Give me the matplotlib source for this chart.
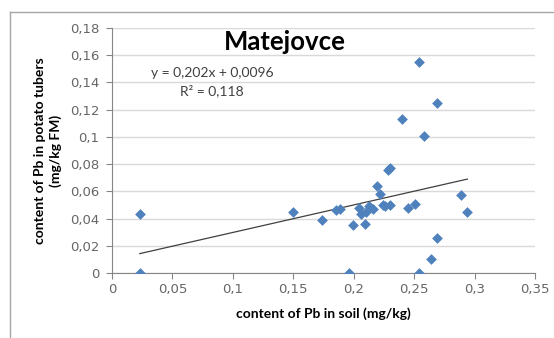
import matplotlib.pyplot as plt
from matplotlib.lines import Line2D
from matplotlib.ticker import FuncFormatter, MultipleLocator

# Pb in soil (mg/kg) vs Pb in potato tubers (mg/kg FM), Matejovce
soil_pb = [0.023, 0.023, 0.150, 0.174, 0.185, 0.189, 0.196,
           0.199, 0.204, 0.206, 0.209, 0.210, 0.213, 0.216, 0.219,
           0.222, 0.224, 0.226, 0.228, 0.230, 0.230, 0.240, 0.245,
           0.251, 0.254, 0.254, 0.258, 0.264, 0.269, 0.269, 0.289, 0.294]
tuber_pb = [0.043, 0.000, 0.045, 0.039, 0.046, 0.047, 0.000,
            0.035, 0.048, 0.043, 0.036, 0.045, 0.049, 0.047, 0.064,
            0.058, 0.050, 0.049, 0.076, 0.077, 0.050, 0.113, 0.048,
            0.051, 0.155, 0.000, 0.101, 0.010, 0.026, 0.125, 0.057, 0.045]

# linear trendline as given on the chart
slope = 0.202
intercept = 0.0096
eq_text = "y = 0,202x + 0,0096"
r2_text = "R² = 0,118"

W, H = 554, 338
fig = plt.figure(figsize=(W / 100, H / 100), dpi=100)
fig.patch.set_facecolor('white')

ax = fig.add_axes([112 / W, 1 - 273 / H, (535 - 112) / W, (273 - 28) / H])

axis_gray = '#868686'
ax.scatter(soil_pb, tuber_pb, marker='D', s=30, color='#4F81BD', zorder=3, linewidths=0)

x0, x1 = min(soil_pb), max(soil_pb)
ax.plot([x0, x1], [slope * x0 + intercept, slope * x1 + intercept],
        color='#404040', lw=0.9, zorder=2)

ax.set_xlim(0, 0.35)
ax.set_ylim(0, 0.18)
ax.xaxis.set_major_locator(MultipleLocator(0.05))
ax.yaxis.set_major_locator(MultipleLocator(0.02))

fmt = FuncFormatter(lambda v, p: ('%g' % round(v, 4)).replace('.', ','))
ax.xaxis.set_major_formatter(fmt)
ax.yaxis.set_major_formatter(fmt)

ax.grid(axis='y', color='#D9D9D9', lw=1)
ax.set_axisbelow(True)
for side in ['top', 'right']:
    ax.spines[side].set_visible(False)
for side in ['left', 'bottom']:
    ax.spines[side].set_color(axis_gray)
    ax.spines[side].set_linewidth(0.8)
ax.tick_params(axis='both', colors=axis_gray, length=4, width=0.8, labelsize=9.5,
               labelcolor='#666666')
ax.tick_params(axis='x', pad=3)
ax.tick_params(axis='y', pad=5)

ax.set_xlabel('content of Pb in soil (mg/kg)', fontsize=10, fontweight='bold',
              family='Lato', labelpad=8)
ax.set_ylabel('content of Pb in potato tubers\n(mg/kg FM)', fontsize=10,
              fontweight='bold', family='Lato', labelpad=6, linespacing=1.25)

fig.text(285 / W, 1 - 42 / H, 'Matejovce', fontsize=18.5, fontweight='bold',
         family='Lato', ha='center', va='center')
fig.text(212 / W, 1 - 73 / H, eq_text, fontsize=10, family='Lato',
         ha='center', va='center', color='#404040')
fig.text(212 / W, 1 - 91 / H, r2_text, fontsize=10, family='Lato',
         ha='center', va='center', color='#404040')

# chart frame (top and left edges visible)
fig.add_artist(Line2D([10 / W, 1], [1 - 12 / H, 1 - 12 / H], color='#A6A6A6', lw=1))
fig.add_artist(Line2D([10 / W, 10 / W], [0, 1 - 12 / H], color='#A6A6A6', lw=1))

fig.savefig('out.png', dpi=100)
